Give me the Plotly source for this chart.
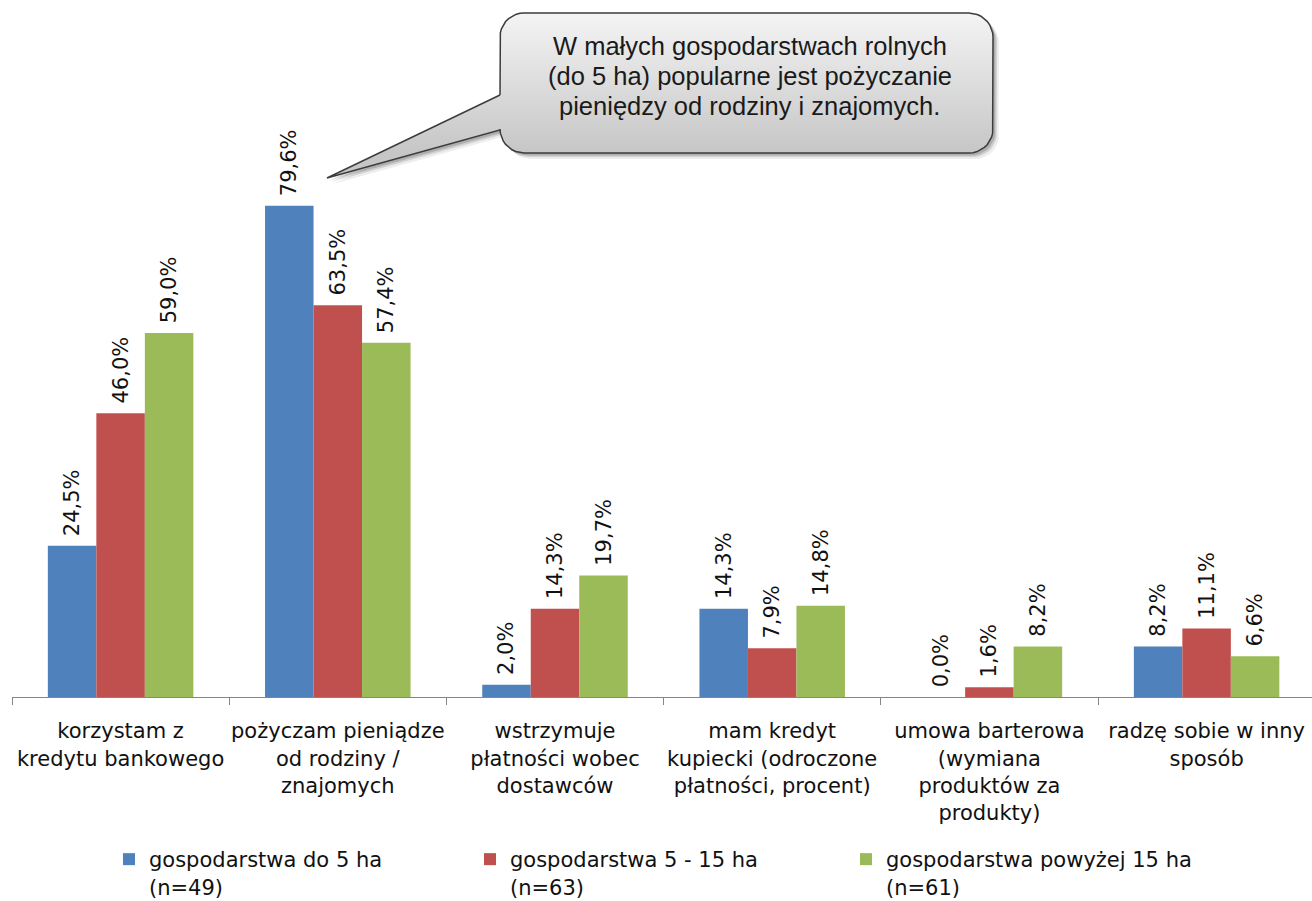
import numpy as np
import plotly.graph_objects as go

# --- data ---------------------------------------------------------------
categories = [
    "korzystam z<br>kredytu bankowego",
    "pożyczam pieniądze<br>od rodziny /<br>znajomych",
    "wstrzymuje<br>płatności wobec<br>dostawców",
    "mam kredyt<br>kupiecki (odroczone<br>płatności, procent)",
    "umowa barterowa<br>(wymiana<br>produktów za<br>produkty)",
    "radzę sobie w inny<br>sposób",
]
series_names = [
    "gospodarstwa do 5 ha<br>(n=49)",
    "gospodarstwa 5 - 15 ha<br>(n=63)",
    "gospodarstwa powyżej 15 ha<br>(n=61)",
]
small_farms = [24.5, 79.6, 2.0, 14.3, 0.0, 8.2]
medium_farms = [46.0, 63.5, 14.3, 7.9, 1.6, 11.1]
large_farms = [59.0, 57.4, 19.7, 14.8, 8.2, 6.6]
callout_lines = [
    "W małych gospodarstwach rolnych",
    "(do 5 ha) popularne jest pożyczanie",
    "pieniędzy od rodziny i znajomych.",
]

colors = ["#4F81BD", "#C0504D", "#9BBB59"]
W, H = 1312, 901
FONT = "DejaVu Sans"

fig = go.Figure()

legend_ids = ["legend", "legend2", "legend3"]
for name, vals, col, lg in zip(series_names, [small_farms, medium_farms, large_farms],
                               colors, legend_ids):
    fig.add_trace(go.Bar(
        x=categories, y=vals, name=name, marker=dict(color=col, line=dict(width=0)),
        texttemplate="\u00a0%{y:.1f}%", textposition="outside", textangle=-90,
        constraintext="none",
        textfont=dict(family=FONT, size=21, color="#111111"),
        cliponaxis=False, legend=lg, xaxis="x", yaxis="y",
    ))

# --- callout bubble (drawn in a pixel-space overlay) ---------------------
bx0, by0, bx1, by1, r = 500, 13, 993, 153, 24
tip = (327, 178)
ptr_top, ptr_bot = 95, 130


def arc(cx, cy, a0, a1, n=10):
    t = np.linspace(np.radians(a0), np.radians(a1), n)
    return list(cx + r * np.cos(t)), list(cy + r * np.sin(t))


xs, ys = [bx0, bx0], [ptr_top, by0 + r]
for cx, cy, a0, a1 in [(bx0 + r, by0 + r, 180, 270), (bx1 - r, by0 + r, 270, 360),
                       (bx1 - r, by1 - r, 0, 90), (bx0 + r, by1 - r, 90, 180)]:
    ax, ay = arc(cx, cy, a0, a1)
    xs += ax
    ys += ay
xs += [bx0, tip[0], bx0]
ys += [ptr_bot, tip[1], ptr_top]
xs = np.array(xs)
ys = np.array(ys)

for dx, alpha in [(6, 0.07), (4, 0.12), (2.5, 0.16)]:
    fig.add_trace(go.Scatter(
        x=xs + dx, y=ys + dx, mode="lines", fill="toself",
        fillcolor=f"rgba(0,0,0,{alpha})", line=dict(width=0),
        hoverinfo="skip", showlegend=False, xaxis="x2", yaxis="y2",
    ))
fig.add_trace(go.Scatter(
    x=xs, y=ys, mode="lines", fill="toself",
    fillgradient=dict(type="vertical", start=by0, stop=by1,
                      colorscale=[[0, "#f4f4f4"], [1, "#c6c6c6"]]),
    line=dict(color="#3c3c3c", width=1.5),
    hoverinfo="skip", showlegend=False, xaxis="x2", yaxis="y2",
))
for line_text, ly in zip(callout_lines, [46, 76, 106]):
    fig.add_annotation(
        x=(bx0 + bx1) / 2 + 3, y=ly, xref="x2", yref="y2", text=line_text,
        showarrow=False, align="center", yanchor="middle",
        font=dict(family="Liberation Sans", size=25.5, color="#1a1a1a"),
    )

# --- layout -------------------------------------------------------------
x_left = 12
cat_px = 217.2
span = (W - x_left) / cat_px
axis_color = "#868686"

legend_common = dict(
    orientation="h", yanchor="top", xanchor="left", y=1 - 839 / H,
    font=dict(family=FONT, size=21, color="#111111"),
    bgcolor="rgba(0,0,0,0)", borderwidth=0, valign="top",
    itemclick=False, itemdoubleclick=False,
)
legend_x_px = [149, 510, 886]

fig.update_layout(
    width=W, height=H,
    margin=dict(l=0, r=0, t=0, b=0, pad=0, autoexpand=False),
    paper_bgcolor="white", plot_bgcolor="rgba(0,0,0,0)",
    barmode="group", bargap=0.33, bargroupgap=0,
    separators=", ",
    xaxis=dict(
        domain=[x_left / W, 1], range=[-0.5, -0.5 + span], anchor="y",
        showline=True, linecolor=axis_color, linewidth=1,
        ticks="outside", ticklen=7, tickcolor=axis_color, tickson="boundaries",
        tickangle=0,
        showgrid=False, tickfont=dict(family=FONT, size=21, color="#111111"),
        ticklabelstandoff=15, fixedrange=True, automargin=False,
    ),
    yaxis=dict(
        domain=[(H - 697) / H, (H - 80) / H], range=[0, 100], anchor="x",
        visible=False, showgrid=False, zeroline=False, fixedrange=True,
    ),
    xaxis2=dict(domain=[0, 1], range=[0, W], anchor="y2", visible=False, fixedrange=True),
    yaxis2=dict(domain=[0, 1], range=[H, 0], anchor="x2", visible=False, fixedrange=True),
    legend=dict(legend_common, x=(legend_x_px[0] - 40) / W),
    legend2=dict(legend_common, x=(legend_x_px[1] - 40) / W),
    legend3=dict(legend_common, x=(legend_x_px[2] - 40) / W),
    showlegend=True,
)

fig.write_html("out.html")
